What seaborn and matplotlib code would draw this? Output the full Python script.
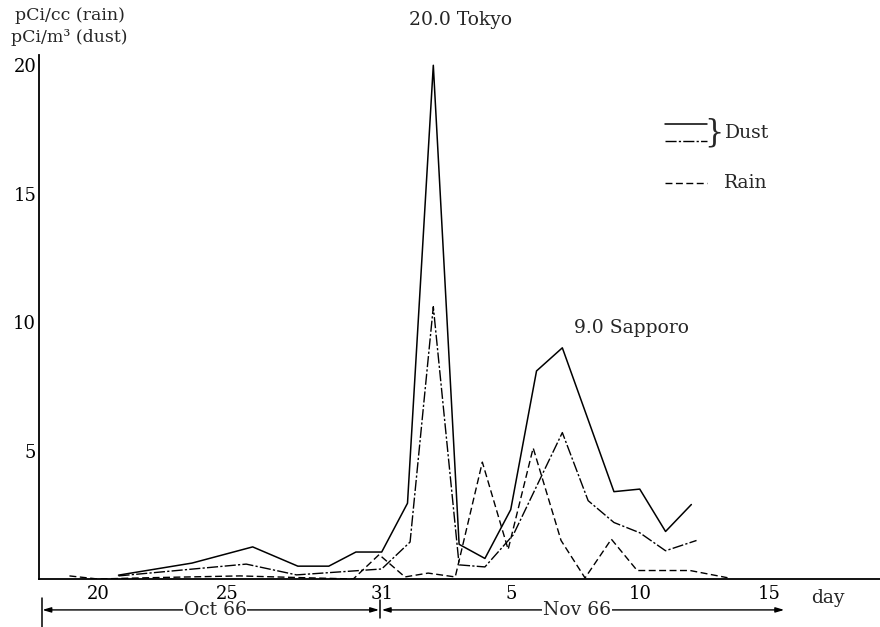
import numpy as np
import pandas as pd
import matplotlib
matplotlib.use('Agg')
import matplotlib.pyplot as plt
import seaborn as sns

sns.set_style('white')
plt.rcParams['font.family'] = ['DejaVu Serif']
plt.rcParams['lines.scale_dashes'] = False

# days counted from Oct 20 1966 (0 = Oct 20, 12 = Nov 1)
dust1_day = [0.8, 3.65, 6.0, 7.75, 8.95, 10.0, 11.0, 12.0, 13, 14, 15, 16, 17, 18, 20, 21, 22, 23]
dust1_val = [0.15, 0.62, 1.25, 0.5, 0.5, 1.05, 1.05, 2.95, 20.0, 1.35, 0.8, 2.7, 8.1, 9.0, 3.4, 3.5, 1.85, 2.9]

dust2_day = [0.8, 5.75, 7.7, 11.0, 12.1, 13, 14, 15, 16.1, 18, 19, 20, 21, 22, 23.2]
dust2_val = [0.12, 0.58, 0.16, 0.39, 1.44, 10.6, 0.55, 0.47, 1.72, 5.7, 3.05, 2.2, 1.8, 1.1, 1.5]

rain_day = [-1.1, 0.0, 2.0, 5.5, 8.0, 9.9, 10.9, 11.9, 12.8, 13.85, 14.9, 15.9, 16.87, 17.95, 18.88, 19.9, 20.9, 22.95, 24.4]
rain_val = [0.12, 0.0, 0.05, 0.12, 0.05, 0.0, 0.95, 0.08, 0.23, 0.08, 4.55, 1.15, 5.1, 1.5, 0.04, 1.55, 0.33, 0.33, 0.05]

tick_pos = [0, 5, 11, 16, 21, 26]
tick_lab = ['20', '25', '31', '5', '10', '15']

dust1 = pd.DataFrame({'day': dust1_day, 'val': dust1_val})
dust2 = pd.DataFrame({'day': dust2_day, 'val': dust2_val})
rain = pd.DataFrame({'day': rain_day, 'val': rain_val})

fig = plt.figure(figsize=(8.8, 6.27), dpi=100)
ax = fig.add_axes([39/880, 48/627, 841/880, 524/627])

dashdot = (0, (8, 1.6, 1.6, 1.6))
dashed = (0, (5, 2.5))
sns.lineplot(data=dust1, x='day', y='val', ax=ax, color='black', lw=1.1, sort=False, estimator=None)
sns.lineplot(data=dust2, x='day', y='val', ax=ax, color='black', lw=1.0, linestyle=dashdot, sort=False, estimator=None)
sns.lineplot(data=rain, x='day', y='val', ax=ax, color='black', lw=1.0, linestyle=dashed, sort=False, estimator=None)

ax.set_xlim(-2.28, 30.31)
ax.set_ylim(0, 20.4)
ax.set_xlabel('')
ax.set_ylabel('')
ax.set_yticks([5, 10, 15, 20])
ax.set_yticklabels(['5', '10', '15', '20'], fontsize=13)
ax.set_xticks(tick_pos)
ax.set_xticklabels(tick_lab, fontsize=13)
ax.tick_params(axis='y', direction='in', length=8, width=1.1, pad=2, colors='black')
ax.tick_params(axis='x', length=0, pad=4, colors='black')
sns.despine(ax=ax)
for s in ['left', 'bottom']:
    ax.spines[s].set_color('black')
    ax.spines[s].set_linewidth(1.3)

# units
fig.text(15/880, 1 - 15/627, 'pCi/cc (rain)', fontsize=12.5, va='center', ha='left')
fig.text(11/880, 1 - 38/627, 'pCi/m³ (dust)', fontsize=12.5, va='center', ha='left')

# peak labels
ax.text(14.05, 21.75, '20.0 Tokyo', fontsize=13.5, ha='center', va='center')
ax.text(20.67, 9.77, '9.0 Sapporo', fontsize=13.5, ha='center', va='center')

# legend drawn by hand (brace for the two dust lines)
tr = ax.transAxes
ax.plot([0.744, 0.794], [0.869, 0.869], color='black', lw=1.1, transform=tr)
ax.plot([0.744, 0.794], [0.835, 0.835], color='black', lw=1.0, linestyle=dashdot, transform=tr)
ax.plot([0.744, 0.794], [0.755, 0.755], color='black', lw=1.0, linestyle=dashed, transform=tr)
ax.text(0.802, 0.852, '}', fontsize=22, transform=tr, ha='center', va='center')
ax.text(0.816, 0.852, 'Dust', fontsize=13.5, transform=tr, ha='left', va='center')
ax.text(0.814, 0.755, 'Rain', fontsize=13.5, transform=tr, ha='left', va='center')

# month brackets under the axis
xt = ax.get_xaxis_transform()
yb = -0.059
arrow = dict(arrowstyle='<|-|>,head_length=0.5,head_width=0.15', color='black', lw=1.0,
             shrinkA=0, shrinkB=0)
ax.annotate('', xy=(-2.15, yb), xytext=(10.9, yb), xycoords=xt, textcoords=xt,
            arrowprops=arrow, annotation_clip=False)
ax.annotate('', xy=(11.0, yb), xytext=(26.6, yb), xycoords=xt, textcoords=xt,
            arrowprops=arrow, annotation_clip=False)
ax.plot([-2.16, -2.16], [-0.036, -0.092], color='black', lw=1.1, transform=xt, clip_on=False)
ax.plot([10.95, 10.95], [-0.040, -0.075], color='black', lw=1.1, transform=xt, clip_on=False)
ax.text(4.55, yb, 'Oct 66', fontsize=13.5, ha='center', va='center', transform=xt,
        bbox=dict(facecolor='white', edgecolor='none', pad=0.5))
ax.text(18.57, yb, 'Nov 66', fontsize=13.5, ha='center', va='center', transform=xt,
        bbox=dict(facecolor='white', edgecolor='none', pad=0.5))
ax.text(28.3, -0.036, 'day', fontsize=13.5, ha='center', va='center', transform=xt)

fig.savefig('out.png', dpi=100)
